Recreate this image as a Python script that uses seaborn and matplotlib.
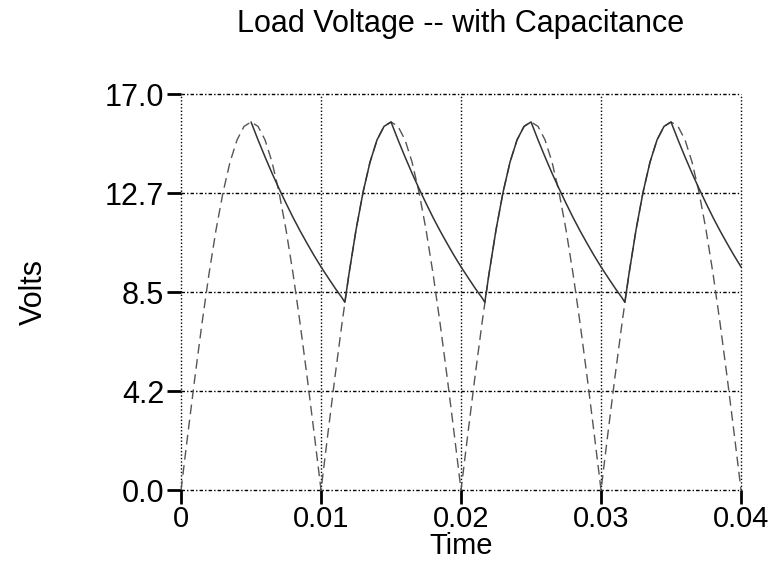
import matplotlib
matplotlib.use("Agg")
import matplotlib.pyplot as plt
import seaborn as sns
import pandas as pd

# rectified source (dashed), every 0.5 ms
src_time = [i * 0.0005 for i in range(81)]
src_volts = [
    0.0, 2.47, 4.88, 7.17, 9.29, 11.17, 12.78, 14.08, 15.03, 15.61,
    15.8, 15.61, 15.03, 14.08, 12.78, 11.17, 9.29, 7.17, 4.88, 2.47,
    0.0, 2.47, 4.88, 7.17, 9.29, 11.17, 12.78, 14.08, 15.03, 15.61,
    15.8, 15.61, 15.03, 14.08, 12.78, 11.17, 9.29, 7.17, 4.88, 2.47,
    0.0, 2.47, 4.88, 7.17, 9.29, 11.17, 12.78, 14.08, 15.03, 15.61,
    15.8, 15.61, 15.03, 14.08, 12.78, 11.17, 9.29, 7.17, 4.88, 2.47,
    0.0, 2.47, 4.88, 7.17, 9.29, 11.17, 12.78, 14.08, 15.03, 15.61,
    15.8, 15.61, 15.03, 14.08, 12.78, 11.17, 9.29, 7.17, 4.88, 2.47,
    0.0,
]

# load voltage with capacitor (solid)
load_time = [
    0.005, 0.0055, 0.006, 0.0065, 0.007, 0.0075, 0.008, 0.0085, 0.009, 0.0095,
    0.010, 0.0105, 0.011, 0.0115, 0.0117, 0.012, 0.0125, 0.013, 0.0135, 0.014, 0.0145,
    0.015, 0.0155, 0.016, 0.0165, 0.017, 0.0175, 0.018, 0.0185, 0.019, 0.0195,
    0.020, 0.0205, 0.021, 0.0215, 0.0217, 0.022, 0.0225, 0.023, 0.0235, 0.024, 0.0245,
    0.025, 0.0255, 0.026, 0.0265, 0.027, 0.0275, 0.028, 0.0285, 0.029, 0.0295,
    0.030, 0.0305, 0.031, 0.0315, 0.0317, 0.032, 0.0325, 0.033, 0.0335, 0.034, 0.0345,
    0.035, 0.0355, 0.036, 0.0365, 0.037, 0.0375, 0.038, 0.0385, 0.039, 0.0395, 0.040,
]
load_volts = [
    15.8, 15.03, 14.30, 13.60, 12.94, 12.31, 11.70, 11.13, 10.59, 10.07,
    9.58, 9.12, 8.67, 8.25, 8.06, 9.29, 11.17, 12.78, 14.08, 15.03, 15.61,
    15.8, 15.03, 14.30, 13.60, 12.94, 12.31, 11.70, 11.13, 10.59, 10.07,
    9.58, 9.12, 8.67, 8.25, 8.06, 9.29, 11.17, 12.78, 14.08, 15.03, 15.61,
    15.8, 15.03, 14.30, 13.60, 12.94, 12.31, 11.70, 11.13, 10.59, 10.07,
    9.58, 9.12, 8.67, 8.25, 8.06, 9.29, 11.17, 12.78, 14.08, 15.03, 15.61,
    15.8, 15.03, 14.30, 13.60, 12.94, 12.31, 11.70, 11.13, 10.59, 10.07, 9.58,
]

y_ticks = [0.0, 4.25, 8.5, 12.75, 17.0]
y_labels = ["0.0", "4.2", "8.5", "12.7", "17.0"]
x_ticks = [0.0, 0.01, 0.02, 0.03, 0.04]
x_labels = ["0", "0.01", "0.02", "0.03", "0.04"]

sns.set_style("white")
plt.rcParams["font.family"] = ["Liberation Sans", "DejaVu Sans"]
plt.rcParams["text.color"] = "black"
plt.rcParams["axes.labelcolor"] = "black"
plt.rcParams["xtick.color"] = "black"
plt.rcParams["ytick.color"] = "black"

fig = plt.figure(figsize=(7.74, 5.65), dpi=100)
ax = fig.add_axes([0.2339, 0.1327, 0.9574 - 0.2339, 0.8336 - 0.1327])

src = pd.DataFrame({"t": src_time, "v": src_volts})
load = pd.DataFrame({"t": load_time, "v": load_volts})

sns.lineplot(data=src, x="t", y="v", ax=ax, color="#555555", linewidth=1.0,
             linestyle=(0, (7, 4)), clip_on=False)
sns.lineplot(data=load, x="t", y="v", ax=ax, color="#333333", linewidth=1.1,
             clip_on=False)

ax.set_xlim(0, 0.04)
ax.set_ylim(0, 17)

for s in ax.spines.values():
    s.set_visible(False)

for yv in y_ticks:
    ax.axhline(yv, color="black", linewidth=1.0, linestyle=(0, (2.5, 1.5, 1, 1.5)),
               zorder=0, clip_on=False)
for xv in x_ticks:
    ax.axvline(xv, color="black", linewidth=1.0, linestyle=(0, (1, 1.5)),
               zorder=0, clip_on=False)

ax.set_yticks(y_ticks)
ax.set_yticklabels(y_labels)
ax.set_xticks(x_ticks)
ax.set_xticklabels(x_labels)
ax.tick_params(axis="y", which="major", direction="out", length=10, width=2,
               colors="black", labelsize=22, pad=2, left=True)
ax.tick_params(axis="x", which="major", direction="out", length=10, width=2,
               colors="black", labelsize=21, pad=1, bottom=True)

ax.set_title("Load Voltage -- with Capacitance", fontsize=22, pad=45, color="black")
ax.set_xlabel("Time", fontsize=21, labelpad=-1)
ax.set_ylabel("Volts", fontsize=22, labelpad=40)

fig.savefig("out.png", dpi=100)
